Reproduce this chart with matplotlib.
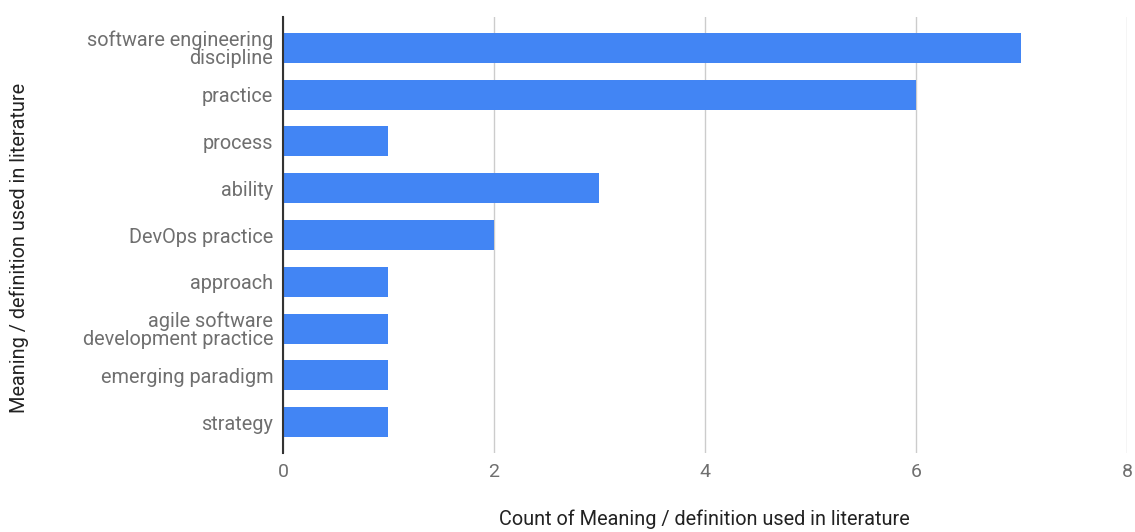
import matplotlib.pyplot as plt
import numpy as np

# --- 数据 ---
categories = [
    "software engineering\ndiscipline",
    "practice",
    "process",
    "ability",
    "DevOps practice",
    "approach",
    "agile software\ndevelopment practice",
    "emerging paradigm",
    "strategy",
]
counts = [7, 6, 1, 3, 2, 1, 1, 1, 1]
x_ticks = [0, 2, 4, 6, 8]

BAR_COLOR = "#4285F4"
TEXT_COLOR = "#6f6f6f"

plt.rcParams['font.family'] = ['Roboto', 'DejaVu Sans']

fig = plt.figure(figsize=(11.35, 5.32), dpi=100)
ax = fig.add_axes([0.2493, 0.1485, 0.7436, 0.8195])

y = np.arange(len(categories))
ax.barh(y, counts, height=0.64, color=BAR_COLOR, zorder=3)

ax.set_ylim(len(categories) - 1 + 0.66, -0.66)
ax.set_xlim(0, 8)
ax.set_xticks(x_ticks)
ax.set_xticklabels([str(t) for t in x_ticks], fontsize=14, color=TEXT_COLOR)
ax.set_yticks(y)
ax.set_yticklabels(categories, fontsize=14.3, color=TEXT_COLOR, linespacing=0.92)

ax.grid(axis='x', color='#cccccc', linewidth=1, zorder=0)
for s in ['top', 'right', 'bottom']:
    ax.spines[s].set_visible(False)
ax.spines['left'].set_color('#333333')
ax.spines['left'].set_linewidth(1.5)
ax.spines['left'].set_zorder(4)
ax.tick_params(axis='both', length=0)
ax.tick_params(axis='x', pad=7)
ax.tick_params(axis='y', pad=7)

fig.text(0.621, 0.006, "Count of Meaning / definition used in literature",
         ha='center', va='bottom', fontsize=14.3, color='#222222')
fig.text(0.017, 0.534, "Meaning / definition used in literature",
         ha='center', va='center', rotation=90, fontsize=14.3, color='#222222')

fig.savefig("out.png", dpi=100)
